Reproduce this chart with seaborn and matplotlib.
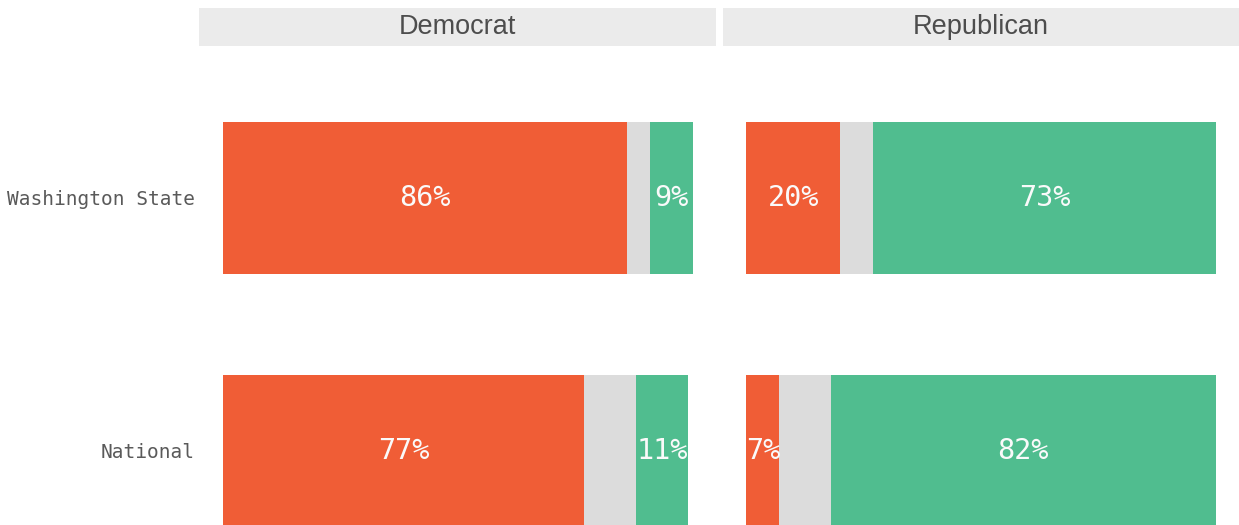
import matplotlib
matplotlib.use("Agg")
from matplotlib import pyplot as plt
from matplotlib.patches import Rectangle
import pandas as pd
import seaborn as sns

# data
parties = ["Democrat", "Republican"]
regions = ["Washington State", "National"]
pct_orange = {"Democrat": [86, 77], "Republican": [20, 7]}
pct_gray = {"Democrat": [5, 11], "Republican": [7, 11]}
pct_green = {"Democrat": [9, 11], "Republican": [73, 82]}

col_orange = "#F05D36"
col_gray = "#DCDCDC"
col_green = "#50BD8F"

sns.set_theme(style="white")
plt.rcParams['font.family'] = ['DejaVu Sans Mono', 'DejaVu Sans']

fig = plt.figure(figsize=(12.39, 5.25), dpi=100)
W, H = 1239, 525
panels = [(199, 716), (723, 1239)]

for i, party in enumerate(parties):
    x0, x1 = panels[i]
    ax = fig.add_axes([x0 / W, 0, (x1 - x0) / W, (H - 46) / H])
    df = pd.DataFrame({
        "region": regions,
        "orange": pct_orange[party],
        "gray": pct_gray[party],
        "green": pct_green[party],
    })
    df["c_gray"] = df["orange"] + df["gray"]
    df["c_green"] = df["c_gray"] + df["green"]

    # stacked bars drawn as overlapping cumulative totals
    sns.barplot(data=df, y="region", x="c_green", color=col_green, orient="h",
                width=0.6, saturation=1, ax=ax)
    sns.barplot(data=df, y="region", x="c_gray", color=col_gray, orient="h",
                width=0.6, saturation=1, ax=ax)
    sns.barplot(data=df, y="region", x="orange", color=col_orange, orient="h",
                width=0.6, saturation=1, ax=ax)
    for p in ax.patches:
        p.set_edgecolor("none")
        p.set_linewidth(0)

    for j, row in df.iterrows():
        ax.text(row["orange"] / 2, j, f"{row['orange']}%", ha="center", va="center",
                color="#FAFAFA", fontsize=20.5)
        ax.text(row["c_gray"] + row["green"] / 2, j, f"{row['green']}%", ha="center",
                va="center", color="#FAFAFA", fontsize=20.5)

    ax.set_xlim(-5, 105)
    ax.set_ylim(1.294, -0.6)
    ax.set_xlabel("")
    ax.set_ylabel("")
    ax.set_xticks([])
    for s in ax.spines.values():
        s.set_visible(False)
    if i == 0:
        ax.tick_params(axis="y", length=0, pad=3, labelsize=14, labelcolor="#5A5A5A")
    else:
        ax.set_yticks([])

    # facet strip
    strip = Rectangle((x0 / W, (H - 46) / H), (x1 - x0) / W, 38 / H,
                      transform=fig.transFigure, facecolor="#EBEBEB",
                      edgecolor="none")
    fig.patches.append(strip)
    fig.text((x0 + x1) / 2 / W, (H - 27) / H, party, ha="center", va="center",
             fontsize=19.5, color="#4D4D4D", family="Liberation Sans")

plt.savefig("out.png", dpi=100)
